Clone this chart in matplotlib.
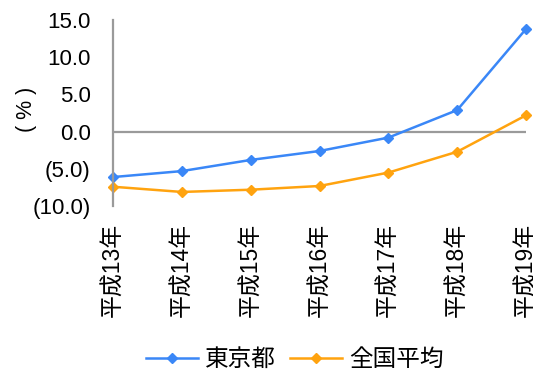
import matplotlib
matplotlib.use("Agg")
import matplotlib.pyplot as plt
from matplotlib.ticker import FuncFormatter

categories = ["平成13年", "平成14年", "平成15年", "平成16年", "平成17年", "平成18年", "平成19年"]
tokyo = [-6.1, -5.3, -3.8, -2.6, -0.8, 2.9, 13.8]
national = [-7.4, -8.1, -7.8, -7.3, -5.5, -2.7, 2.2]
series_names = ["東京都", "全国平均"]

plt.rcParams['font.family'] = ['Liberation Sans', 'Noto Sans CJK JP', 'DejaVu Sans']

fig = plt.figure(figsize=(5.33, 3.70), dpi=100)
ax = fig.add_axes([0.212, 0.443, 0.775, 0.503])

x = list(range(len(categories)))
ax.plot(x, tokyo, color='#3A87F7', marker='D', markersize=5.5, lw=1.8, label=series_names[0], clip_on=False)
ax.plot(x, national, color='#FFA30F', marker='D', markersize=5.5, lw=1.8, label=series_names[1], clip_on=False)
ax.axhline(0, color='#9A9A9A', lw=1.6, zorder=0)

ax.set_xlim(0, 6)
ax.set_ylim(-10, 15)
ax.set_yticks([-10, -5, 0, 5, 10, 15])
ax.yaxis.set_major_formatter(FuncFormatter(lambda v, p: f"({abs(v):.1f})" if v < 0 else f"{v:.1f}"))
ax.set_xticks(x)
ax.set_xticklabels(categories, rotation=90, fontsize=16.5)
ax.tick_params(axis='y', labelsize=16, length=0, pad=16)
ax.tick_params(axis='x', length=0, pad=12)
for s in ['top', 'right', 'bottom']:
    ax.spines[s].set_visible(False)
ax.spines['left'].set_color('#9A9A9A')
ax.spines['left'].set_linewidth(1.6)
ax.set_ylabel("( % )", fontsize=15.5)
ax.yaxis.set_label_coords(-0.185, 0.52)

fig.legend(loc='center', bbox_to_anchor=(0.553, 0.027), ncol=2, frameon=False,
           fontsize=17, handlelength=2.2, columnspacing=0.6, handletextpad=0.3,
           borderpad=0, borderaxespad=0)

fig.savefig("out.png", dpi=100)
